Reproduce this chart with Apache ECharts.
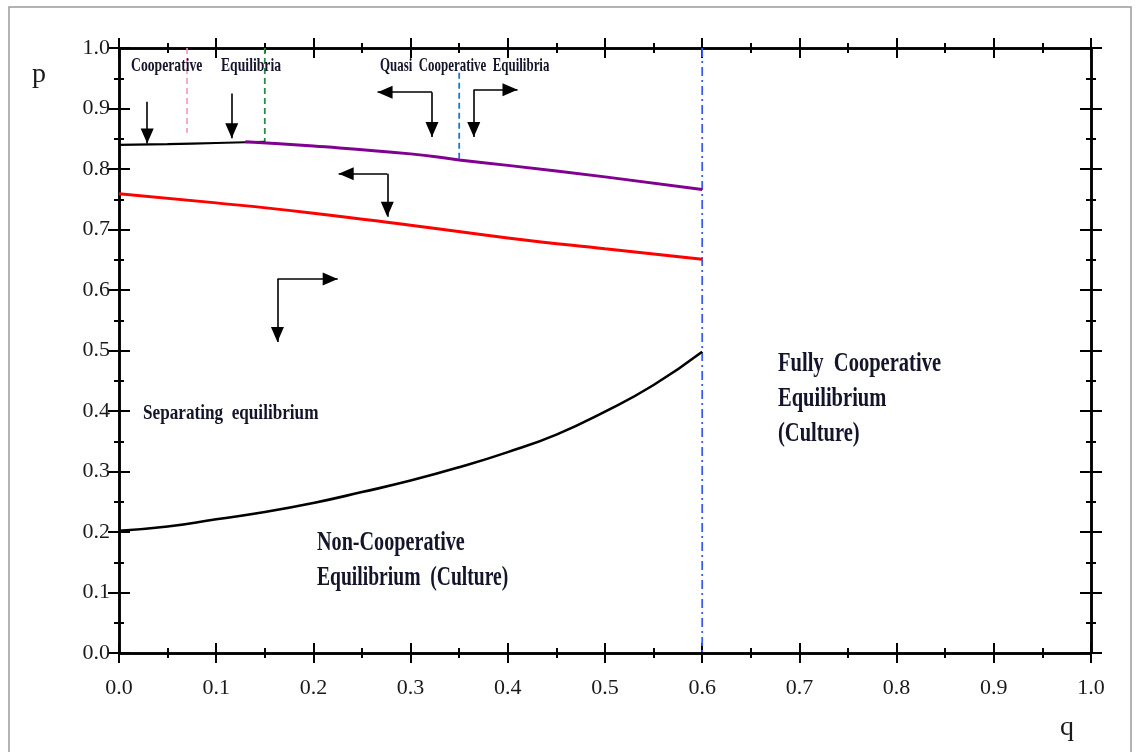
<!DOCTYPE html>
<html><head><meta charset="utf-8">
<script src="https://cdn.jsdelivr.net/npm/echarts@6/dist/echarts.min.js"></script>
<style>html,body{margin:0;padding:0;background:#fff}#c{width:1142px;height:752px}</style>
</head><body><div id="c"></div>
<script>
// ---- data (q on x, p on y) ----
const upperBlackQ = [0, 0.05, 0.10, 0.15];
const upperBlackP = [0.840, 0.841, 0.843, 0.845];
const purpleQ = [0.13, 0.20, 0.30, 0.35, 0.40, 0.50, 0.60];
const purpleP = [0.845, 0.838, 0.825, 0.815, 0.806, 0.787, 0.766];
const redQ = [0, 0.1, 0.2, 0.3, 0.4, 0.5, 0.6];
const redP = [0.759, 0.744, 0.727, 0.707, 0.686, 0.668, 0.651];
const lowerBlackQ = [0, 0.05, 0.10, 0.15, 0.20, 0.25, 0.30, 0.35, 0.40, 0.45, 0.50, 0.55, 0.60];
const lowerBlackP = [0.202, 0.209, 0.221, 0.233, 0.248, 0.266, 0.285, 0.307, 0.332, 0.361, 0.399, 0.443, 0.498];

// vertical boundary markers
const markerQ = [0.07, 0.15, 0.35, 0.6];
const markerTopP = [1.0, 1.0, 0.959, 1.0];
const markerBottomP = [0.86, 0.845, 0.815, 0.0];

// arrows (start -> end, arrowhead tip at end)
const arrowStartQ = [0.029, 0.116, 0.322, 0.322, 0.365, 0.365, 0.276, 0.276, 0.163, 0.163];
const arrowStartP = [0.911, 0.925, 0.927, 0.927, 0.931, 0.931, 0.792, 0.792, 0.618, 0.618];
const arrowEndQ   = [0.029, 0.116, 0.266, 0.322, 0.410, 0.365, 0.226, 0.276, 0.225, 0.163];
const arrowEndP   = [0.842, 0.851, 0.927, 0.853, 0.931, 0.853, 0.792, 0.721, 0.618, 0.514];

const tickLabelsQ = ['0.0','0.1','0.2','0.3','0.4','0.5','0.6','0.7','0.8','0.9','1.0'];
const tickLabelsP = ['0.0','0.1','0.2','0.3','0.4','0.5','0.6','0.7','0.8','0.9','1.0'];

const regionLabels = ['Cooperative', 'Equilibria', 'Quasi  Cooperative  Equilibria',
  'Separating  equilibrium', 'Non-Cooperative', 'Equilibrium  (Culture)',
  'Fully  Cooperative', 'Equilibrium', '(Culture)'];
const axisNameX = 'q';
const axisNameY = 'p';

// ---- chart ----
const zip = (a, b) => a.map((v, i) => [v, b[i]]);
const AX = { color: '#000', width: 2.5 };
function xAx(grid, pos, inside, labels) {
  return {
    type: 'value', gridIndex: grid, position: pos, min: 0, max: 1, interval: 0.1,
    axisLine: { show: true, onZero: false, lineStyle: AX },
    axisTick: { show: true, inside: inside, length: 10, lineStyle: { color: '#000', width: 2 } },
    minorTick: { show: true, splitNumber: 2, length: 5, lineStyle: { color: '#000', width: 2 } },
    splitLine: { show: false },
    axisLabel: { show: labels, margin: 24, fontFamily: 'Liberation Serif', fontSize: 22, color: '#1a1a1a',
      formatter: v => tickLabelsQ[Math.round(v * 10)] }
  };
}
function yAx(grid, pos, inside, labels) {
  return {
    type: 'value', gridIndex: grid, position: pos, min: 0, max: 1, interval: 0.1,
    axisLine: { show: true, onZero: false, lineStyle: AX },
    axisTick: { show: true, inside: inside, length: 11, lineStyle: { color: '#000', width: 2 } },
    minorTick: { show: true, splitNumber: 2, length: 5, lineStyle: { color: '#000', width: 2 } },
    splitLine: { show: false },
    axisLabel: { show: labels, margin: 9, fontFamily: 'Liberation Serif', fontSize: 22, color: '#1a1a1a',
      formatter: v => tickLabelsP[Math.round(v * 10)] }
  };
}
const gridRect = { left: 119, right: 51, top: 48, bottom: 99, containLabel: false };

const markerStyles = [
  { color: '#ff8fc4', width: 1.6, type: [6, 4] },
  { color: '#2a8a4a', width: 1.8, type: [6, 4] },
  { color: '#1a78d0', width: 1.8, type: [6, 4] },
  { color: '#3a5cf0', width: 1.8, type: [9, 4, 2, 4] }
];

// triangle whose tip sits at the symbol centre (so the tip lands on the end point)
const ARROW_HEAD = 'path://M15,15 L21.5,30 L8.5,30 Z M0,0 L0,0 M30,30 L30,30';

const series = [];
function curve(q, p, color, width) {
  series.push({ type: 'line', xAxisIndex: 0, yAxisIndex: 0, data: zip(q, p), smooth: true,
    showSymbol: false, symbol: 'none', silent: true, lineStyle: { color, width }, z: 5 });
}
markerQ.forEach((q, i) => {
  series.push({ type: 'line', xAxisIndex: 0, yAxisIndex: 0, data: [[q, markerTopP[i]], [q, markerBottomP[i]]],
    showSymbol: false, symbol: 'none', silent: true, lineStyle: markerStyles[i], z: 3 });
});
curve(upperBlackQ, upperBlackP, '#000', 2.2);
curve(purpleQ, purpleP, '#800090', 3);
curve(redQ, redP, '#ff0000', 3);
curve(lowerBlackQ, lowerBlackP, '#000', 2.6);
series.push({
  type: 'lines', coordinateSystem: 'cartesian2d', xAxisIndex: 0, yAxisIndex: 0, silent: true,
  symbol: ['none', ARROW_HEAD], symbolSize: 30,
  lineStyle: { color: '#000', width: 1.6, opacity: 1 },
  itemStyle: { color: '#000' },
  data: arrowStartQ.map((q, i) => ({ coords: [[q, arrowStartP[i]], [arrowEndQ[i], arrowEndP[i]]] })),
  z: 6
});

const labelPos = [
  [131, 66, 19, 0.72], [221, 66, 19, 0.72], [380, 66, 19, 0.68],
  [143, 413, 22, 0.78], [317, 543, 28, 0.72], [317, 578, 28, 0.70],
  [778, 364, 27, 0.76], [778, 399, 27, 0.76], [778, 434, 27, 0.76]
];
const graphics = [
  { type: 'rect', shape: { x: 9, y: 7, width: 1122, height: 780 }, style: { fill: 'none', stroke: '#9a9a9a', lineWidth: 1.5 }, z: -1 },
  { type: 'text', x: 32, y: 75, style: { text: axisNameY, fontFamily: 'Liberation Serif', fontSize: 28, fill: '#1a1a1a', verticalAlign: 'middle' } },
  { type: 'text', x: 1060, y: 728, style: { text: axisNameX, fontFamily: 'Liberation Serif', fontSize: 28, fill: '#1a1a1a', verticalAlign: 'middle' } }
];
regionLabels.forEach((t, i) => {
  const [x, y, fs, sx] = labelPos[i];
  graphics.push({ type: 'text', x, y, scaleX: sx, z: 10,
    style: { text: t, fontFamily: 'Liberation Serif', fontWeight: 'bold', fontSize: fs, fill: '#14142a', verticalAlign: 'middle' } });
});

const chart = echarts.init(document.getElementById('c'), null, { renderer: 'canvas' });
chart.setOption({
  animation: false,
  backgroundColor: '#fff',
  grid: [gridRect, gridRect],
  xAxis: [xAx(0, 'bottom', false, true), xAx(0, 'top', false, false), xAx(1, 'bottom', true, false), xAx(1, 'top', true, false)],
  yAxis: [yAx(0, 'left', false, true), yAx(0, 'right', false, false), yAx(1, 'left', true, false), yAx(1, 'right', true, false)],
  series: series,
  graphic: graphics
});
</script></body></html>
